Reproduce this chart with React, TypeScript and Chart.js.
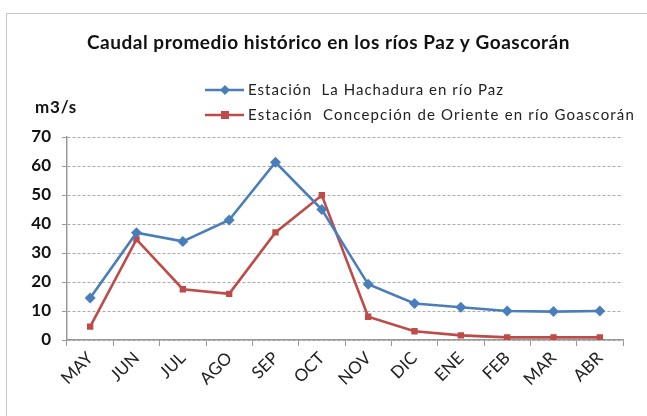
import React, { useEffect, useRef } from "react";
import { Chart, registerables } from "chart.js";

Chart.register(...registerables);

const months = ["MAY", "JUN", "JUL", "AGO", "SEP", "OCT", "NOV", "DIC", "ENE", "FEB", "MAR", "ABR"];
const hachadura = [14.5, 37, 34, 41.4, 61.3, 45, 19.2, 12.6, 11.3, 10, 9.8, 10];
const concepcion = [4.6, 34.7, 17.5, 15.9, 37.1, 49.9, 8, 3, 1.6, 0.9, 0.9, 0.9];
const seriesNames = ["Estación  La Hachadura en río Paz", "Estación  Concepción de Oriente en río Goascorán"];
const titleText = "Caudal promedio histórico en los ríos Paz y Goascorán";
const unitText = "m3/s";

const BLUE = "#4a7ebb";
const RED = "#be4b48";
const FONT = "Lato, 'Open Sans', sans-serif";

function fitText(ctx: any, text: string, x: number, y: number, target: number) {
  ctx.letterSpacing = "0px";
  const w = ctx.measureText(text).width;
  const n = Array.from(text).length;
  const sp = (target - w) / n;
  ctx.letterSpacing = `${sp}px`;
  ctx.textAlign = "left";
  ctx.fillText(text, x, y);
  ctx.letterSpacing = "0px";
}

const overlay = {
  id: "overlay",
  afterDraw(chart: any) {
    const ctx = chart.ctx;
    ctx.save();
    ctx.textBaseline = "middle";
    // title
    ctx.fillStyle = "#111";
    ctx.font = `bold 19px ${FONT}`;
    fitText(ctx, titleText, 87, 43, 483);
    // unit
    ctx.font = `bold 17px ${FONT}`;
    fitText(ctx, unitText, 35, 108, 42);
    // legend
    const items = [
      { color: BLUE, style: "rectRot", r: 5, y: 90, w: 256 },
      { color: RED, style: "rect", r: 4, y: 115, w: 387 },
    ];
    items.forEach((it, i) => {
      ctx.strokeStyle = it.color;
      ctx.lineWidth = 2.5;
      ctx.beginPath();
      ctx.moveTo(205, it.y);
      ctx.lineTo(244, it.y);
      ctx.stroke();
      ctx.fillStyle = it.color;
      const cx = 225;
      if (it.style === "rect") {
        ctx.fillRect(cx - it.r, it.y - it.r, it.r * 2, it.r * 2);
      } else {
        ctx.beginPath();
        ctx.moveTo(cx, it.y - it.r);
        ctx.lineTo(cx + it.r, it.y);
        ctx.lineTo(cx, it.y + it.r);
        ctx.lineTo(cx - it.r, it.y);
        ctx.closePath();
        ctx.fill();
      }
      ctx.fillStyle = "#222";
      ctx.font = `15px ${FONT}`;
      fitText(ctx, seriesNames[i], 248, it.y, it.w);
    });
    ctx.restore();
  },
};

export default function App() {
  const ref = useRef<HTMLCanvasElement | null>(null);
  useEffect(() => {
    document.body.style.margin = "0";
    const chart = new Chart(ref.current as HTMLCanvasElement, {
      type: "line",
      data: {
        labels: months,
        datasets: [
          {
            label: seriesNames[0],
            data: hachadura,
            borderColor: BLUE,
            backgroundColor: BLUE,
            borderWidth: 2.6,
            pointStyle: "rectRot",
            pointRadius: 5.5,
            pointBorderWidth: 0,
            tension: 0,
          },
          {
            label: seriesNames[1],
            data: concepcion,
            borderColor: RED,
            backgroundColor: RED,
            borderWidth: 2.6,
            pointStyle: "rect",
            pointRadius: 4.5,
            pointBorderWidth: 0,
            tension: 0,
          },
        ],
      },
      options: {
        responsive: false,
        animation: false,
        layout: { padding: { left: 0, right: 24, top: 137, bottom: 0 } },
        plugins: { legend: { display: false }, title: { display: false }, tooltip: { enabled: false } },
        scales: {
          x: {
            offset: true,
            grid: { offset: true, drawOnChartArea: false, color: "#999", tickLength: 6 },
            border: { color: "#999", width: 1.5 },
            ticks: {
              minRotation: 45,
              maxRotation: 45,
              color: "#222",
              font: { family: FONT, size: 17 },
              padding: 2,
            },
            afterFit(scale: any) {
              scale.height = 76;
            },
          },
          y: {
            min: 0,
            max: 70,
            ticks: { stepSize: 10, color: "#111", font: { family: FONT, size: 17, weight: "bold" }, padding: 11 },
            grid: { color: "#aaa", tickLength: 5, tickColor: "#999", tickBorderDash: [] } as any,
            border: { color: "#999", width: 1.5, dash: [3, 2] } as any,
            afterFit(scale: any) {
              scale.width = 67;
            },
          },
        },
      },
      plugins: [overlay],
    } as any);
    return () => chart.destroy();
  }, []);
  return (
    <div style={{ position: "relative", width: 647, height: 416, background: "#fff" }}>
      <canvas ref={ref} width={647} height={416} />
      <div
        style={{
          position: "absolute",
          left: 6,
          top: 13,
          width: 660,
          height: 430,
          border: "1.5px solid #c8c8c8",
          boxSizing: "border-box",
          pointerEvents: "none",
        }}
      />
    </div>
  );
}
